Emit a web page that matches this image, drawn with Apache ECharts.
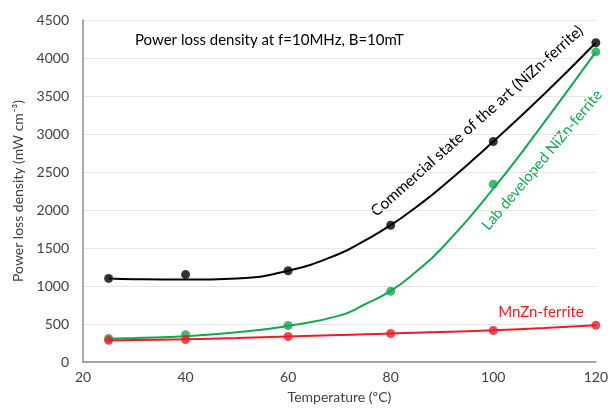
<!DOCTYPE html>
<html>
<head>
<meta charset="utf-8">
<script src="https://cdn.jsdelivr.net/npm/echarts@6/dist/echarts.min.js"></script>
<style>
html,body{margin:0;padding:0;background:#fff;}
#chart{width:611px;height:412px;}
</style>
</head>
<body>
<div id="chart"></div>
<script>
// Measured points
var temps = [25, 40, 60, 80, 100, 120];
var commercial = [1100, 1150, 1200, 1800, 2900, 4200];
var labNiZn = [310, 360, 480, 930, 2340, 4080];
var mnZn = [285, 295, 335, 375, 415, 485];
// Trend curves
var trendTemps = [25, 30, 40, 50, 60, 70, 75, 80, 85, 90, 100, 110, 120];
var commercialTrend = [1100, 1090, 1084, 1100, 1200, 1425, 1600, 1800, 2040, 2305, 2900, 3530, 4200];
var labTrend = [305, 315, 338, 390, 475, 610, 760, 935, 1190, 1500, 2280, 3160, 4080];
var mnZnTrend = [283, 288, 300, 316, 335, 355, 365, 375, 385, 395, 418, 448, 485];
// Axis ticks
var xTicks = [20, 40, 60, 80, 100, 120];
var yTicks = [0, 500, 1000, 1500, 2000, 2500, 3000, 3500, 4000, 4500];

function pairs(xs, ys){ return xs.map(function(x,i){ return [x, ys[i]]; }); }

var FONT = 'Lato';
var cBlack = '#000000', cGreen = '#12a74f', cRed = '#ee1c25';

var chart = echarts.init(document.getElementById('chart'), null, {renderer:'canvas'});
chart.setOption({
  animation:false,
  textStyle:{fontFamily:FONT},
  grid:{left:83, right:12, top:20, bottom:50},
  xAxis:{
    type:'value', min:xTicks[0], max:xTicks[xTicks.length-1], interval:20,
    name:'Temperature (ºC)', nameLocation:'middle', nameGap:28,
    nameTextStyle:{fontFamily:FONT, fontSize:14, color:'#404040'},
    axisLine:{show:true, lineStyle:{color:'#8c8c8c', width:1.5}},
    axisTick:{show:false},
    splitLine:{show:false},
    axisLabel:{fontFamily:FONT, fontSize:14, color:'#404040', margin:8, formatter:function(v){return String(v);}}
  },
  yAxis:{
    type:'value', min:yTicks[0], max:yTicks[yTicks.length-1], interval:500,
    name:'Power loss density (mW cm⁻³)', nameLocation:'middle', nameGap:58,
    nameTextStyle:{fontFamily:FONT, fontSize:14, color:'#404040'},
    axisLine:{show:true, lineStyle:{color:'#8c8c8c', width:1.5}},
    axisTick:{show:false},
    splitLine:{show:true, lineStyle:{color:'#e6e6e6', width:1}},
    axisLabel:{fontFamily:FONT, fontSize:14, color:'#404040', margin:14, formatter:function(v){return String(v);}}
  },
  series:[
    {type:'line', data:pairs(trendTemps, labTrend), showSymbol:false, smooth:0.5,
     lineStyle:{color:cGreen, width:2}, z:2},
    {type:'line', data:pairs(trendTemps, mnZnTrend), showSymbol:false, smooth:0.5,
     lineStyle:{color:cRed, width:2}, z:3},
    {type:'line', data:pairs(trendTemps, commercialTrend), showSymbol:false, smooth:0.5,
     lineStyle:{color:cBlack, width:2}, z:4},
    {type:'scatter', data:pairs(temps, labNiZn), symbolSize:9, itemStyle:{color:cGreen}, z:5},
    {type:'scatter', data:pairs(temps, mnZn), symbolSize:9, itemStyle:{color:cRed}, z:6},
    {type:'scatter', data:pairs(temps, commercial), symbolSize:9, itemStyle:{color:cBlack}, z:7}
  ],
  graphic:[
    {type:'text', left:135, top:33, style:{text:'Power loss density at f=10MHz, B=10mT', font:'15px Lato', fill:'#000'}},
    {type:'text', x:477, y:121, rotation:41.7*Math.PI/180,
     style:{text:'Commercial state of the art (NiZn-ferrite)', font:'15.5px Lato', fill:'#000', align:'center', verticalAlign:'middle'}},
    {type:'text', x:542, y:160, rotation:50*Math.PI/180,
     style:{text:'Lab developed NiZn-ferrite', font:'15px Lato', fill:cGreen, align:'center', verticalAlign:'middle'}},
    {type:'text', x:541, y:312,
     style:{text:'MnZn-ferrite', font:'15px Lato', fill:cRed, align:'center', verticalAlign:'middle'}}
  ]
});
</script>
</body>
</html>
